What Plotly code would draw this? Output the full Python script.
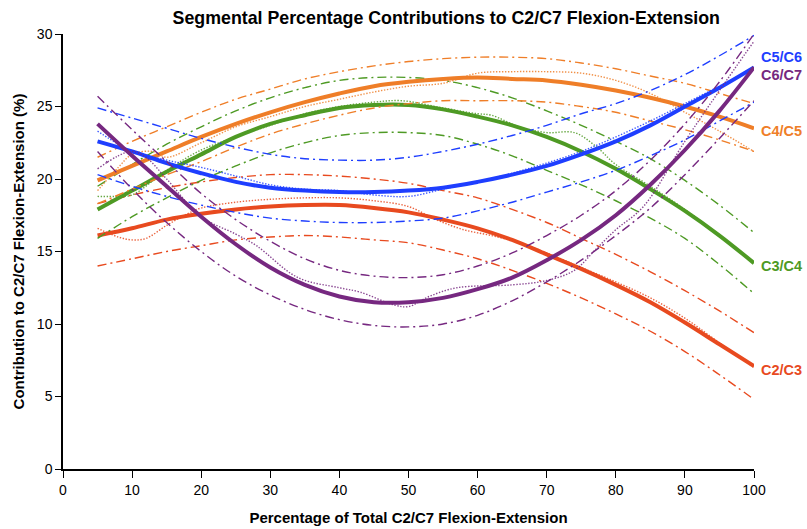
import plotly.graph_objects as go

# ---------------- data ----------------
X = [5, 10, 15, 20, 25, 30, 35, 40, 45, 50, 55, 60, 65, 70, 75, 80, 85, 90, 95, 100]

c23_fit   = [16.1, 16.6, 17.2, 17.6, 17.9, 18.1, 18.2, 18.2, 18.0, 17.7, 17.2, 16.6, 15.8, 14.8, 13.8, 12.7, 11.5, 10.1, 8.6, 7.1]
c23_upper = [18.3, 18.9, 19.4, 19.8, 20.1, 20.3, 20.3, 20.2, 20.0, 19.7, 19.2, 18.7, 17.9, 17.0, 15.9, 14.8, 13.6, 12.3, 10.9, 9.4]
c23_lower = [14.0, 14.5, 15.0, 15.4, 15.8, 16.0, 16.1, 16.0, 15.8, 15.6, 15.1, 14.5, 13.7, 12.8, 11.8, 10.7, 9.5, 8.1, 6.5, 4.8]
c23_raw_x = [5, 8, 10, 12, 15, 18, 20, 25, 30, 35, 40, 45, 50, 54, 58, 62, 66, 70, 75, 80, 85, 90, 95, 100]
c23_raw   = [16.6, 16.0, 15.8, 15.9, 16.8, 17.6, 18.0, 18.4, 18.6, 18.7, 18.7, 18.5, 18.1, 17.2, 16.5, 16.1, 15.6, 14.9, 13.9, 12.9, 11.8, 10.4, 8.7, 7.0]

c34_fit   = [17.9, 19.2, 20.5, 21.7, 22.9, 23.8, 24.4, 24.9, 25.1, 25.1, 24.8, 24.3, 23.7, 22.9, 21.9, 20.7, 19.3, 17.8, 16.1, 14.2]
c34_upper = [19.5, 21.0, 22.4, 23.6, 24.7, 25.6, 26.3, 26.8, 27.0, 27.0, 26.8, 26.3, 25.6, 24.7, 23.7, 22.6, 21.4, 19.9, 18.2, 16.3]
c34_lower = [15.9, 17.4, 18.7, 19.9, 20.9, 21.8, 22.5, 23.0, 23.2, 23.2, 23.0, 22.4, 21.6, 20.6, 19.6, 18.5, 17.3, 15.9, 14.1, 12.1]
c34_raw_x = [5, 8, 10, 15, 20, 25, 30, 35, 40, 45, 49, 55, 60, 62, 66, 70, 74, 77, 80, 85, 90, 95, 100]
c34_raw   = [18.8, 18.8, 18.9, 20.6, 22.0, 22.9, 23.7, 24.5, 25.0, 25.3, 25.4, 24.9, 24.5, 24.4, 23.6, 23.2, 23.2, 22.3, 21.0, 19.5, 17.9, 16.1, 14.2]

c45_fit   = [19.9, 20.9, 21.9, 22.9, 23.8, 24.6, 25.3, 25.9, 26.4, 26.7, 26.9, 27.0, 26.9, 26.8, 26.5, 26.1, 25.6, 25.0, 24.3, 23.5]
c45_upper = [21.5, 22.6, 23.6, 24.6, 25.5, 26.2, 26.9, 27.4, 27.8, 28.1, 28.3, 28.4, 28.4, 28.3, 28.0, 27.6, 27.1, 26.6, 25.9, 25.2]
c45_lower = [18.3, 19.3, 20.3, 21.2, 22.2, 23.1, 23.8, 24.4, 24.9, 25.2, 25.4, 25.4, 25.4, 25.3, 25.0, 24.6, 24.0, 23.4, 22.7, 21.9]
c45_raw_x = [5, 8, 10, 13, 15, 20, 25, 30, 35, 40, 45, 50, 55, 60, 65, 70, 75, 80, 85, 90, 95, 100]
c45_raw   = [19.2, 20.8, 21.7, 21.9, 21.5, 22.5, 23.6, 24.3, 25.0, 25.5, 26.0, 26.4, 26.6, 27.3, 27.4, 27.4, 27.3, 26.8, 25.9, 24.6, 23.3, 21.9]

c56_fit   = [22.6, 21.9, 21.1, 20.4, 19.8, 19.4, 19.2, 19.1, 19.1, 19.2, 19.4, 19.8, 20.3, 20.9, 21.7, 22.6, 23.7, 25.0, 26.3, 27.7]
c56_upper = [24.9, 24.2, 23.5, 22.8, 22.2, 21.7, 21.4, 21.3, 21.3, 21.5, 21.9, 22.4, 23.0, 23.7, 24.5, 25.2, 26.1, 27.2, 28.5, 29.9]
c56_lower = [20.3, 19.5, 18.8, 18.2, 17.7, 17.3, 17.1, 17.0, 17.0, 17.1, 17.3, 17.8, 18.4, 19.1, 19.8, 20.6, 21.6, 22.7, 24.0, 25.3]
c56_raw_x = [5, 8, 10, 15, 20, 25, 30, 35, 40, 45, 50, 55, 60, 65, 70, 75, 80, 85, 90, 95, 100]
c56_raw   = [23.3, 22.4, 21.9, 21.3, 20.8, 20.2, 19.6, 19.3, 19.2, 18.9, 18.8, 19.3, 19.8, 20.4, 21.1, 21.9, 22.9, 24.0, 25.2, 26.4, 27.6]

c67_fit   = [23.8, 21.6, 19.5, 17.4, 15.5, 13.9, 12.7, 11.9, 11.5, 11.5, 11.8, 12.4, 13.2, 14.4, 15.8, 17.5, 19.6, 22.0, 24.7, 27.7]
c67_upper = [25.7, 23.4, 21.2, 19.0, 17.2, 15.7, 14.5, 13.7, 13.3, 13.2, 13.4, 14.0, 14.9, 16.1, 17.5, 19.2, 21.3, 23.8, 26.7, 30.0]
c67_lower = [21.9, 19.3, 17.0, 15.0, 13.3, 12.0, 11.0, 10.3, 9.9, 9.8, 10.0, 10.6, 11.6, 12.9, 14.4, 16.1, 18.0, 20.3, 22.8, 25.4]
c67_raw_x = [5, 8, 10, 12, 15, 20, 25, 28, 34, 40, 43, 48, 50, 53, 57, 65, 70, 74, 77, 80, 84, 90, 95, 100]
c67_raw   = [20.7, 21.6, 21.9, 21.5, 20.0, 17.4, 16.2, 15.4, 13.2, 12.5, 12.2, 11.3, 11.2, 11.9, 12.5, 12.7, 13.0, 13.7, 15.1, 16.5, 18.1, 22.6, 26.1, 29.5]

segment_labels = ["C2/C3", "C3/C4", "C4/C5", "C5/C6", "C6/C7"]
label_y = [6.8, 14.0, 23.3, 28.4, 27.2]
colors = ["#E84A1F", "#4E9A24", "#EF7E28", "#1E3EFF", "#762880"]

series = [
    (c23_fit, c23_upper, c23_lower, c23_raw_x, c23_raw),
    (c34_fit, c34_upper, c34_lower, c34_raw_x, c34_raw),
    (c45_fit, c45_upper, c45_lower, c45_raw_x, c45_raw),
    (c56_fit, c56_upper, c56_lower, c56_raw_x, c56_raw),
    (c67_fit, c67_upper, c67_lower, c67_raw_x, c67_raw),
]

FONT = "Liberation Sans, Arial, sans-serif"

fig = go.Figure()
for (fit, up, lo, rx, raw), col, name in zip(series, colors, segment_labels):
    for band in (up, lo):
        fig.add_trace(go.Scatter(x=X, y=band, mode="lines", name=name,
                                 line=dict(color=col, width=1.4, dash="9px,4px,2px,4px", shape="spline"),
                                 showlegend=False, hoverinfo="skip"))
    fig.add_trace(go.Scatter(x=rx, y=raw, mode="lines", name=name,
                             line=dict(color=col, width=1.4, dash="1.4px,1.6px", shape="spline"),
                             opacity=0.85, showlegend=False, hoverinfo="skip"))
    fig.add_trace(go.Scatter(x=X, y=fit, mode="lines", name=name,
                             line=dict(color=col, width=4, shape="spline"),
                             showlegend=False))

for name, ly, col in zip(segment_labels, label_y, colors):
    fig.add_annotation(x=100, y=ly, xref="x", yref="y", text="<b>%s</b>" % name,
                       showarrow=False, xanchor="left", yanchor="middle", xshift=5,
                       font=dict(family=FONT, size=14.5, color=col))

fig.update_layout(
    width=807, height=529,
    margin=dict(l=63, r=53, t=34, b=60, autoexpand=False),
    paper_bgcolor="white", plot_bgcolor="white",
    showlegend=False,
    title=dict(text="<b>Segmental Percentage Contributions to C2/C7 Flexion-Extension</b>",
               x=0.553, xanchor="center", y=0.967, yanchor="middle",
               font=dict(family=FONT, size=17.8, color="black")),
    font=dict(family=FONT, color="black"),
)
fig.update_xaxes(range=[0, 100], dtick=10, tick0=0, showgrid=False, zeroline=False,
                 showline=True, linecolor="black", linewidth=1.5, automargin=False,
                 ticks="outside", ticklen=7, tickwidth=1.2, tickcolor="black",
                 tickfont=dict(family=FONT, size=14, color="black"),
                 title=dict(text="<b>Percentage of Total C2/C7 Flexion-Extension</b>",
                            font=dict(family=FONT, size=15, color="black"), standoff=16))
fig.update_yaxes(range=[0, 30], dtick=5, tick0=0, showgrid=False, zeroline=False,
                 showline=True, linecolor="black", linewidth=1.5, automargin=False,
                 ticks="outside", ticklen=6, tickwidth=1.2, tickcolor="black",
                 tickfont=dict(family=FONT, size=14, color="black"),
                 title=dict(text="<b>Contribution to C2/C7 Flexion-Extension (%)</b>",
                            font=dict(family=FONT, size=15, color="black"), standoff=9))

fig.write_html("out.html")
